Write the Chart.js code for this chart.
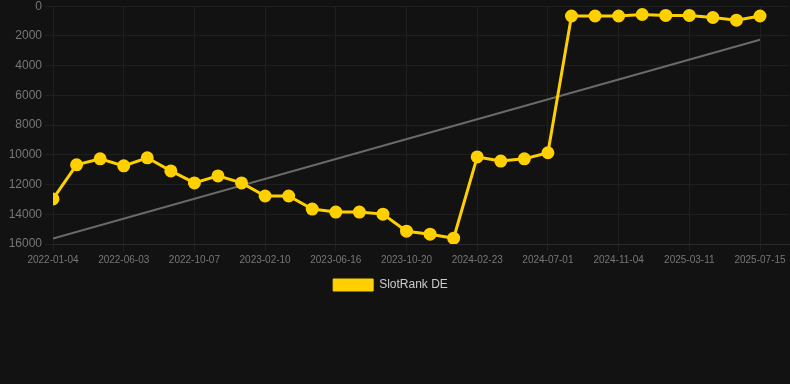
<!DOCTYPE html>
<html>
<head>
<meta charset="utf-8">
<script src="https://cdn.jsdelivr.net/npm/chart.js@4"></script>
<style>
  html, body { margin: 0; padding: 0; background: #121212; overflow: hidden; }
  #wrap { position: relative; width: 797px; height: 305px; margin-top: -4px; }
</style>
</head>
<body>
<div id="wrap"><canvas id="c"></canvas></div>
<script>
const dates = [
  "2022-01-04","2022-02-23","2022-04-14","2022-06-03","2022-07-15","2022-08-26",
  "2022-10-07","2022-11-18","2022-12-30","2023-02-10","2023-03-24","2023-05-05",
  "2023-06-16","2023-07-28","2023-09-08","2023-10-20","2023-12-01","2024-01-12",
  "2024-02-23","2024-04-05","2024-05-17","2024-07-01","2024-08-12","2024-09-23",
  "2024-11-04","2024-12-16","2025-01-27","2025-03-11","2025-04-22","2025-06-03",
  "2025-07-15"
];
const slotRankDE = [
  12970, 10670, 10270, 10740, 10200, 11080,
  11890, 11420, 11890, 12770, 12770, 13650,
  13850, 13850, 13990, 15140, 15340, 15610,
  10140, 10420, 10270, 9860, 660, 660,
  660, 560, 620, 620, 760, 940,
  660
];
const trendStart = 15640;
const trendEnd = 2260;
const yTicks = [0, 2000, 4000, 6000, 8000, 10000, 12000, 14000, 16000];

const mainData = dates.map((d, i) => ({ x: i, y: slotRankDE[i] }));
const trendData = [{ x: 0, y: trendStart }, { x: dates.length - 1, y: trendEnd }];

const legendShift = {
  id: 'legendShift',
  afterLayout(chart) {
    if (chart.legend) {
      chart.legend.left -= 8;
      chart.legend.right -= 8;
    }
  }
};

new Chart(document.getElementById('c'), {
  type: 'line',
  data: {
    datasets: [
      {
        label: 'SlotRank DE',
        data: mainData,
        borderColor: '#FFD000',
        backgroundColor: '#FFD000',
        borderWidth: 3,
        pointRadius: 5,
        pointHoverRadius: 5,
        pointBackgroundColor: '#FFD000',
        pointBorderColor: '#FFD000',
        tension: 0,
        order: 1
      },
      {
        label: 'trend',
        data: trendData,
        borderColor: '#6a6a6a',
        borderWidth: 2,
        pointRadius: 0,
        tension: 0,
        order: 2
      }
    ]
  },
  plugins: [legendShift],
  options: {
    responsive: true,
    maintainAspectRatio: false,
    animation: false,
    layout: { padding: { left: 0, right: 0, top: 0, bottom: 0 } },
    scales: {
      x: {
        type: 'linear',
        min: 0,
        max: 31.23,
        grid: { color: '#1f1f1f', tickLength: 7 },
        border: { color: '#2a2a2a' },
        ticks: {
          stepSize: 3,
          includeBounds: false,
          autoSkip: false,
          maxRotation: 0,
          color: '#777',
          font: { family: 'Liberation Sans, Arial, sans-serif', size: 10 },
          callback: (v) => (Number.isInteger(v) && dates[v] !== undefined) ? dates[v] : ''
        }
      },
      y: {
        reverse: true,
        min: yTicks[0],
        max: yTicks[yTicks.length - 1],
        afterFit: (scale) => { scale.width = 53; },
        grid: { color: '#1f1f1f' },
        border: { color: '#1f1f1f' },
        ticks: {
          stepSize: 2000,
          color: '#777',
          font: { family: 'Liberation Sans, Arial, sans-serif', size: 12 },
          callback: (v) => String(v)
        }
      }
    },
    plugins: {
      legend: {
        position: 'bottom',
        labels: {
          color: '#ccc',
          boxWidth: 40,
          boxHeight: 12,
          font: { family: 'Liberation Sans, Arial, sans-serif', size: 12 },
          filter: (item) => item.text === 'SlotRank DE',
          generateLabels: (chart) => {
            const items = Chart.defaults.plugins.legend.labels.generateLabels(chart);
            items.forEach(it => { it.lineWidth = 1; });
            return items;
          }
        }
      },
      tooltip: { enabled: false }
    }
  }
});
</script>
</body>
</html>
